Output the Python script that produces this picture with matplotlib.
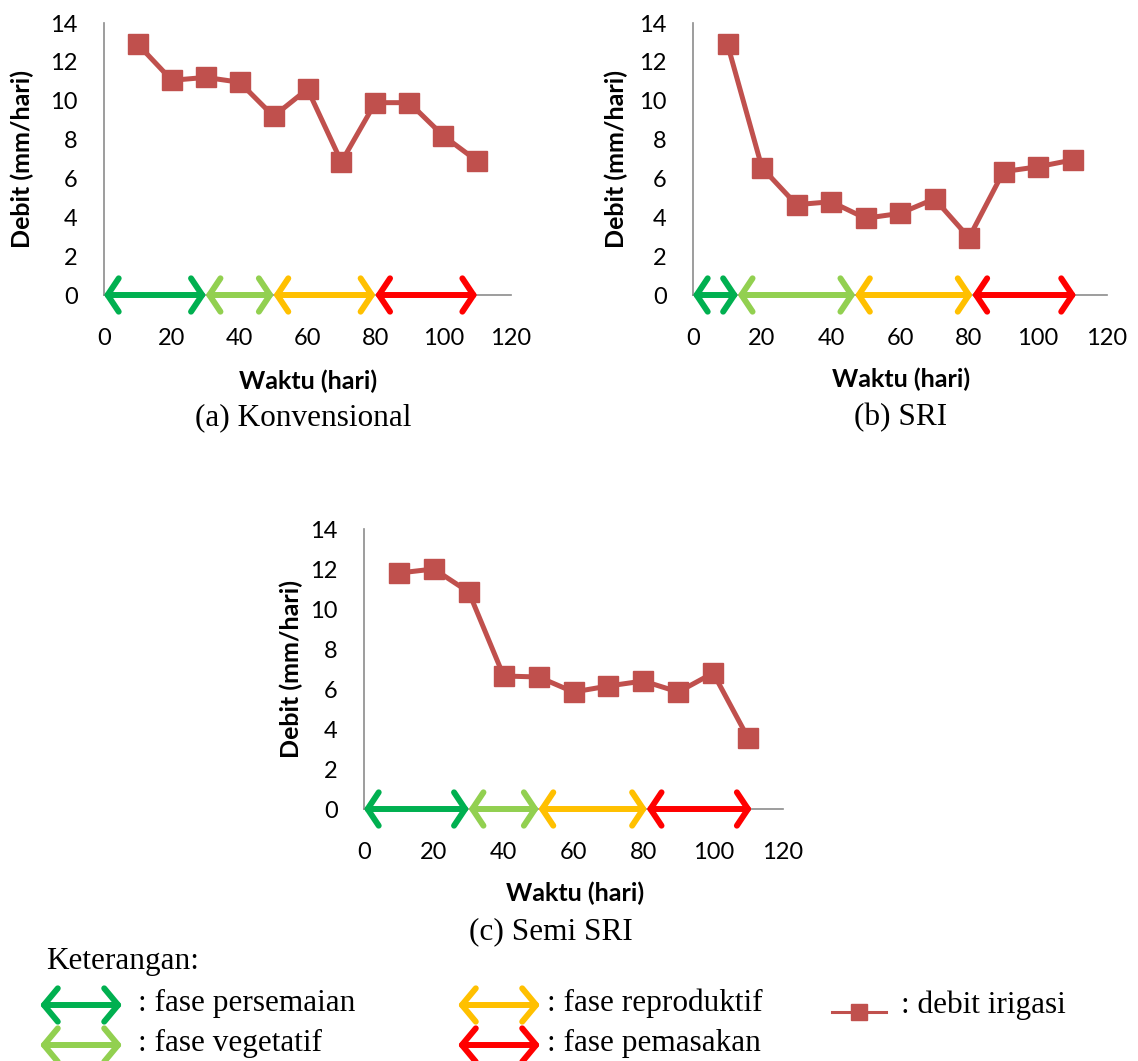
import matplotlib.pyplot as plt
from matplotlib.patches import FancyArrowPatch
from matplotlib.lines import Line2D

# data
days = [10, 20, 30, 40, 50, 60, 70, 80, 90, 100, 110]
debit_konvensional = [12.9, 11.05, 11.2, 10.95, 9.2, 10.6, 6.85, 9.9, 9.9, 8.2, 6.9]
debit_sri = [12.9, 6.55, 4.65, 4.8, 3.95, 4.2, 4.95, 2.95, 6.35, 6.6, 6.95]
debit_semi_sri = [11.8, 12.0, 10.85, 6.65, 6.6, 5.85, 6.15, 6.4, 5.85, 6.8, 3.55]

# phase boundaries (hari) for each chart
fase_konvensional = [0, 30, 50, 80, 110]
fase_sri = [0, 13, 47, 81, 111]
fase_semi_sri = [0, 30, 50, 81, 111]

fase_colors = ['#00B050', '#92D050', '#FFC000', '#FF0000']
fase_names = [': fase persemaian', ': fase vegetatif', ': fase reproduktif', ': fase pemasakan']
captions = ['(a) Konvensional', '(b) SRI', '(c) Semi SRI']

LINE_RED = '#C0504D'
W, H = 1138, 1061

plt.rcParams['font.family'] = ['Lato', 'DejaVu Sans']
fig = plt.figure(figsize=(W / 100, H / 100), dpi=100)
fig.patch.set_facecolor('white')


def px(x, y):
    "pixel position (from top-left) -> figure fraction"
    return x / W, 1 - y / H


def arrow(p0, p1, color, lw, transform, hl=8, hw=12, **kw):
    a = FancyArrowPatch(p0, p1, arrowstyle=f'<->,head_length={hl},head_width={hw}',
                        color=color, lw=lw, mutation_scale=1, shrinkA=0, shrinkB=0,
                        transform=transform, **kw)
    return a


def panel(box, debit, fase, caption, ylab_x, xlab_xy, cap_xy):
    # box = (left, y of x-axis, width, height) in pixels
    left, base, w, h = box
    rect = [left / W, 1 - base / H, w / W, h / H]
    ax = fig.add_axes(rect)
    ax.set_xlim(0, 120)
    ax.set_ylim(0, 14)
    ax.set_xticks(range(0, 121, 20))
    ax.set_yticks(range(0, 15, 2))
    ax.tick_params(length=0, labelsize=17, colors='black')
    ax.tick_params(axis='x', pad=24)
    ax.tick_params(axis='y', pad=19)
    for s in ['top', 'right']:
        ax.spines[s].set_visible(False)
    for s in ['left', 'bottom']:
        ax.spines[s].set_color('#8c8c8c')
        ax.spines[s].set_linewidth(1.2)
    ax.patch.set_alpha(0)

    for i in range(4):
        ax.add_patch(arrow((fase[i], 0), (fase[i + 1], 0), fase_colors[i], 4.3,
                           ax.transData, clip_on=False, zorder=3))

    ax.plot(days, debit, color=LINE_RED, lw=3.6, marker='s', markersize=14.5,
            clip_on=False, zorder=4)

    # axis titles and caption
    fig.text(ylab_x / W, 1 - (base - h / 2) / H, 'Debit (mm/hari)', rotation=90,
             fontsize=18, fontweight='bold', ha='center', va='center')
    fig.text(*px(*xlab_xy), 'Waktu (hari)', fontsize=18,
             fontweight='bold', ha='center', va='center')
    fig.text(*px(*cap_xy), caption, fontsize=22.5, family='Liberation Serif',
             ha='center', va='center')
    return ax


panel((104, 295, 407, 272), debit_konvensional, fase_konvensional,
      captions[0], 22, (308, 381), (303, 418))
panel((693, 295, 414, 272), debit_sri, fase_sri,
      captions[1], 616, (901, 379), (901, 418))
panel((364, 809, 419, 280), debit_semi_sri, fase_semi_sri,
      captions[2], 291, (575, 893), (551, 932))

# legend (Keterangan)
serif = dict(family='Liberation Serif', fontsize=22.5, va='center', ha='left')
fig.text(*px(46, 962), 'Keterangan:', **serif)

legend_pos = [(40, 1005, 138), (40, 1045, 138), (458, 1005, 547), (458, 1045, 547)]
for (x, y, tx), c, name in zip(legend_pos, fase_colors, fase_names):
    fig.add_artist(arrow(px(x, y), px(x + 82, y), c, 4.3, fig.transFigure, hl=10, hw=12))
    fig.text(*px(tx, y - 2), name, **serif)

fig.add_artist(Line2D([832 / W, 886 / W], [1 - 1012 / H] * 2, color=LINE_RED, lw=2.2))
fig.add_artist(Line2D([859 / W], [1 - 1012 / H], color=LINE_RED, marker='s',
                      markersize=12))
fig.text(*px(901, 1005), ': debit irigasi', **serif)

fig.savefig('out.png', dpi=100)
